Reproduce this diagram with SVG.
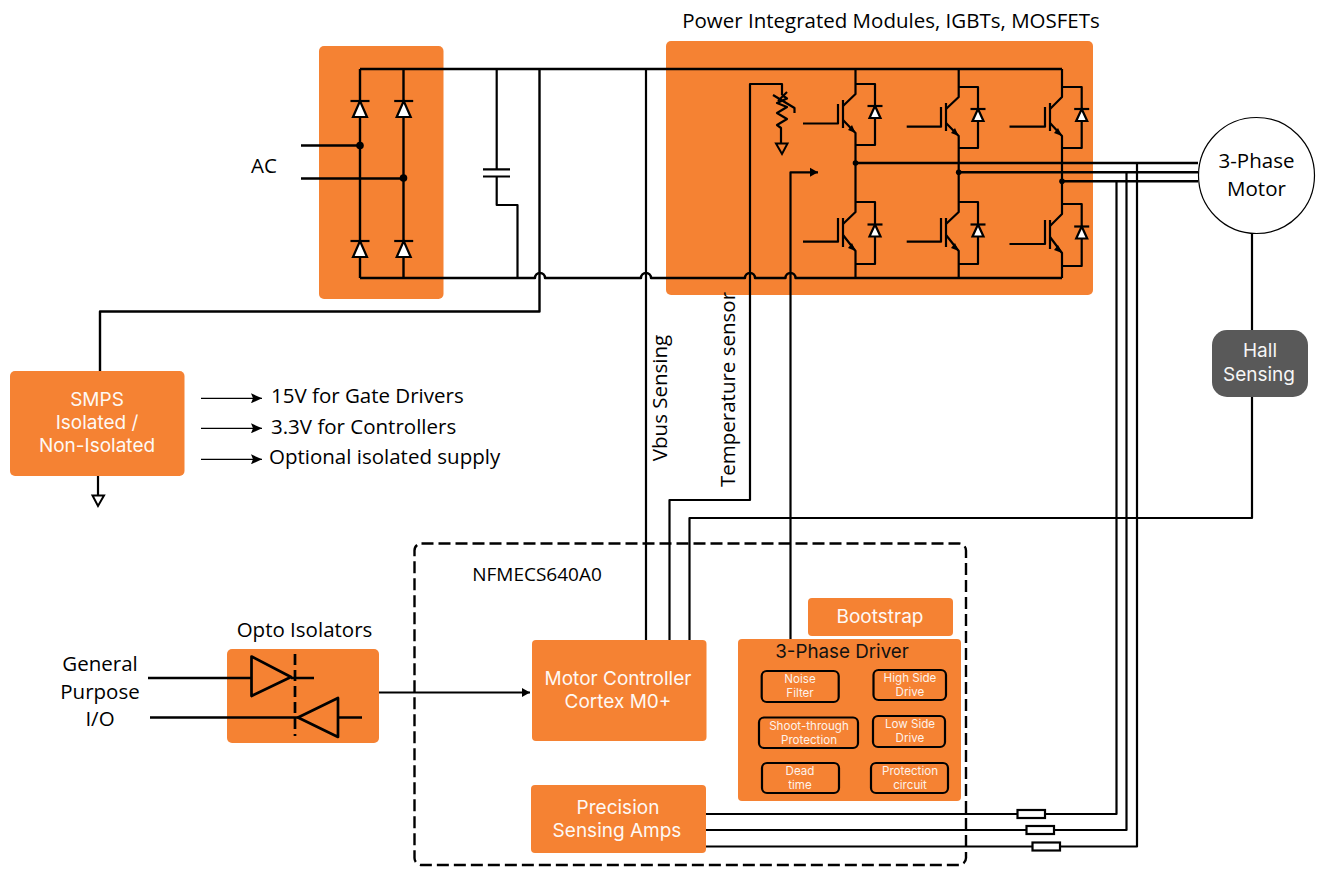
<svg xmlns="http://www.w3.org/2000/svg" width="1318" height="869" viewBox="0 0 1318 869">
<style>
.o{fill:#F58233}
.w{stroke:#000;stroke-width:2.2;fill:none;stroke-linejoin:round}
.w2{stroke:#000;stroke-width:2.4;fill:none;stroke-linejoin:round}
.op{stroke:#000;stroke-width:2.7;fill:none;stroke-linejoin:round}
.thin{stroke:#000;stroke-width:1.2;fill:none}
.k{font-family:"Open Sans","Noto Sans",sans-serif;font-size:20.5px;fill:#000;text-anchor:middle}
.i{font-family:Inter,"Liberation Sans",sans-serif;fill:#fff;text-anchor:middle;font-size:19px;opacity:.95}
.s{font-family:Inter,"Liberation Sans",sans-serif;fill:#fff;text-anchor:middle;font-size:11.6px;opacity:.9}
.b{fill:none;stroke:#000;stroke-width:2.2;}
.dot{fill:#000}
</style>
<defs>
<g id="diode"><path d="M-9.500 0H9.500" class="w"/><path d="M0 0L-7 16H7Z" fill="#fff" stroke="#000" stroke-width="2.200"/></g>
<g id="diodeS"><path d="M-7.500 0H7.500" class="w"/><path d="M0 0L-5.500 12H5.500Z" fill="#fff" stroke="#000" stroke-width="2.200"/></g>
<marker id="ah" markerWidth="12" markerHeight="10" refX="11" refY="5" orient="auto" markerUnits="userSpaceOnUse"><path d="M0 0L11 5L0 10L2 5Z" fill="#000"/></marker>
<marker id="ah2" markerWidth="9" markerHeight="10" refX="8" refY="5" orient="auto" markerUnits="userSpaceOnUse"><path d="M0 0.500L8 5L0 9.500Z" fill="#000"/></marker>
</defs>
<rect width="1318" height="869" fill="#fff"/>

<g id="rectifier-panel"><rect class="o" x="319" y="46" width="124.500" height="253" rx="5"/></g>
<g id="inverter-panel"><rect class="o" x="666" y="41" width="427" height="254" rx="5"/></g>
<g id="opto-panel"><rect class="o" x="227" y="649" width="152" height="94" rx="5"/></g>

<g id="connectors">
<!-- rails -->
<path class="w2" d="M360 69H1062M360 278H535a5 5 0 0 1 10 0H641a5 5 0 0 1 10 0H745a5 5 0 0 1 10 0H785.500a5 5 0 0 1 10 0H1062"/>
<!-- rectifier -->
<path class="w2" d="M360 69V257M360 241V278M403.500 69V278"/>
<path class="w2" d="M301 145.500H360M301 178.500H403.500"/>
<circle class="dot" cx="360" cy="145.500" r="3.800"/><circle class="dot" cx="403.500" cy="178" r="3.800"/>
<!-- capacitor -->
<path class="w" d="M496.700 69V169M496.700 176.500V205H517.500V278M483 169.300H510M483 176.500H510"/>
<!-- smps feed -->
<path class="w2" d="M539.500 69V311.500H100V371"/>
<path class="w" d="M98 476V495"/>
<path d="M92.500 495.500H104L98 506Z" fill="#fff" stroke="#000" stroke-width="2"/>
<path class="thin" d="M201 398.300H262" marker-end="url(#ah)"/>
<path class="thin" d="M201 428.300H262" marker-end="url(#ah)"/>
<path class="thin" d="M201 459.300H262" marker-end="url(#ah)"/>
<!-- sensing up lines -->
<path class="w" d="M646 69V640"/>
<path class="w" d="M669.500 640V500H750V84H782V95"/>
<path class="w" d="M689.500 640V518H1252V233"/>
<path class="w" d="M790.500 640V172.300H818" marker-end="url(#ah2)"/>
<!-- thermistor -->
<path class="w" d="M782 95L787 98.500L777 103L787 107L777 113L787 119L777 125L781 128V143"/>
<path class="w" d="M773 95L794.500 108V113"/>
<path class="w" d="M778 101L787 92"/>
<path d="M776 143.500H787.500L782 154Z" fill="none" stroke="#000" stroke-width="2"/>
<!-- phase outputs -->
<path class="w2" d="M855.500 163H1198M958.700 172.300H1198M1062 181.300H1198"/>
<circle class="dot" cx="855.500" cy="163" r="2.800"/><circle class="dot" cx="958.700" cy="172.300" r="2.800"/><circle class="dot" cx="1062" cy="181.300" r="2.800"/>
<!-- current sense -->
<path class="w" d="M706 814H1116.500V181"/>
<path class="w" d="M706 830H1126.500V172"/>
<path class="w" d="M706 846.500H1137V163"/>
<g fill="#fff" stroke="#000" stroke-width="2.200"><rect x="1017.500" y="810" width="27.500" height="8"/><rect x="1026.500" y="826" width="27.500" height="8"/><rect x="1032.500" y="842.500" width="27.500" height="8"/></g>
<!-- opto -->
<path class="op" d="M148 678H251M291 678H314M150 717.500H298M338 717.500H362"/>
<path class="op" d="M251.500 656.500L291 677L251.500 696Z"/>
<path class="op" d="M338 698V737L298 717.500Z"/>
<path d="M295 654V736" stroke="#000" stroke-width="2.700" stroke-dasharray="11 5" fill="none"/>
<path class="w" d="M379 692.500H530" marker-end="url(#ah2)"/>
<!-- IGBTs -->
<g class="w">
<path d="M855.500 69V94L843 106M843 120L855.500 133V202"/>
<path d="M855.500 84H875V145H855.500M875 118V106"/>
<path d="M803 123.500H838V104M843 100V128"/>
<path d="M855.500 202H875V264H855.500M855.500 202V212L843 224M843 235L855.500 251V278"/>
<path d="M803 241.700H838V218M843 218V247"/>
<path d="M958.700 69V97L946 109M946 123L958.700 136V202"/>
<path d="M958.700 87H978V148H958.700"/>
<path d="M906.700 126.700H941V107M946 103V131"/>
<path d="M958.700 202H978V264H958.700M958.700 202V212L946 224M946 235L958.700 251V278"/>
<path d="M906.700 241.700H941V218M946 218V247"/>
<path d="M1062 69V97L1050 109M1050 123L1062 136V204"/>
<path d="M1062 87H1081.700V148H1062"/>
<path d="M1009.500 126.700H1045V107M1050 103V131"/>
<path d="M1062 204H1081.700V266H1062M1062 204V214L1050 226M1050 237L1062 253V278"/>
<path d="M1009.500 244H1045V220M1050 220V249"/>
</g>
<g class="dot"><path d="M855.500 133L848 130L852 125Z"/><path d="M958.700 136L951 133L955 128Z"/><path d="M1062 136L1054 133L1058 128Z"/><path d="M855.500 251L848 248L852 243Z"/><path d="M958.700 251L951 248L955 243Z"/><path d="M1062 253L1054 250L1058 245Z"/></g>
<!-- diodes -->
<use href="#diode" x="360" y="101"/><use href="#diode" x="403.700" y="101"/>
<use href="#diode" x="360" y="241"/><use href="#diode" x="403.700" y="241"/>
<use href="#diodeS" x="875" y="106"/><use href="#diodeS" x="978" y="109"/><use href="#diodeS" x="1081.700" y="109"/>
<use href="#diodeS" x="875" y="224.500"/><use href="#diodeS" x="978" y="224.500"/><use href="#diodeS" x="1081.700" y="226.500"/>
</g>

<g id="controller-boundary"><rect x="414.500" y="543.500" width="551.500" height="321.500" rx="7" fill="none" stroke="#000" stroke-width="2.400" stroke-dasharray="12 5"/></g>

<g id="motor"><circle cx="1256.500" cy="175.500" r="58" fill="#fff" stroke="#000" stroke-width="1.200"/><text class="k" x="1256.500" y="168">3-Phase</text><text class="k" x="1256.500" y="196">Motor</text></g>
<g id="hall"><rect x="1212" y="330" width="96" height="67" rx="15" fill="#595959"/><text class="i" x="1260" y="357">Hall</text><text class="i" x="1259" y="381">Sensing</text></g>
<g id="smps"><rect class="o" x="10" y="371" width="174.500" height="105" rx="5"/><text class="i" x="97" y="406">SMPS</text><text class="i" x="97" y="429">Isolated /</text><text class="i" x="97" y="452">Non-Isolated</text></g>
<g id="opto"><text class="k" x="304.500" y="637">Opto Isolators</text></g>
<g id="controller"><rect class="o" x="532" y="640" width="174.500" height="101" rx="4"/><text class="i" x="618" y="685">Motor Controller</text><text class="i" x="618" y="708">Cortex M0+</text></g>
<g id="amps"><rect class="o" x="531" y="785" width="175" height="68" rx="4"/><text class="i" x="618" y="814">Precision</text><text class="i" x="617" y="837">Sensing Amps</text></g>
<g id="bootstrap"><rect class="o" x="808" y="598" width="145" height="38" rx="4"/><text class="i" x="880" y="623">Bootstrap</text></g>
<g id="driver"><rect class="o" x="738" y="639" width="223" height="162" rx="4"/><text x="842" y="658" font-family="Inter,'Liberation Sans',sans-serif" font-size="18.800" text-anchor="middle" fill="#111">3-Phase Driver</text></g>
<g id="noise"><rect class="b" x="761.700" y="671" width="77" height="31" rx="5"/><text class="s" x="800" y="683">Noise</text><text class="s" x="800" y="697">Filter</text></g>
<g id="high"><rect class="b" x="873.500" y="670" width="72.500" height="30" rx="5"/><text class="s" x="910" y="682">High Side</text><text class="s" x="910" y="696">Drive</text></g>
<g id="shoot"><rect class="b" x="759" y="717.500" width="99" height="30.500" rx="5"/><text class="s" x="809" y="730">Shoot-through</text><text class="s" x="809" y="744">Protection</text></g>
<g id="low"><rect class="b" x="873" y="716" width="72" height="31" rx="5"/><text class="s" x="910" y="728">Low Side</text><text class="s" x="910" y="742">Drive</text></g>
<g id="dead"><rect class="b" x="762" y="763" width="77" height="30" rx="5"/><text class="s" x="800" y="775">Dead</text><text class="s" x="800" y="789">time</text></g>
<g id="protection"><rect class="b" x="871" y="763" width="77" height="30" rx="5"/><text class="s" x="910" y="775">Protection</text><text class="s" x="910" y="789">circuit</text></g>

<g id="labels">
<text class="k" x="891" y="28">Power Integrated Modules, IGBTs, MOSFETs</text>
<text class="k" x="264" y="173">AC</text>
<text class="k" x="271" y="403" style="text-anchor:start">15V for Gate Drivers</text>
<text class="k" x="271" y="434" style="text-anchor:start">3.3V for Controllers</text>
<text class="k" x="269" y="464" style="text-anchor:start">Optional isolated supply</text>
<text class="k" x="537" y="581" style="font-size:19px">NFMECS640A0</text>
<text class="k" x="100" y="671">General</text>
<text class="k" x="100" y="699">Purpose</text>
<text class="k" x="100" y="726">I/O</text>
<text class="k" transform="translate(667 398) rotate(-90)">Vbus Sensing</text>
<text class="k" transform="translate(735 389.500) rotate(-90)">Temperature sensor</text>
</g>
</svg>
